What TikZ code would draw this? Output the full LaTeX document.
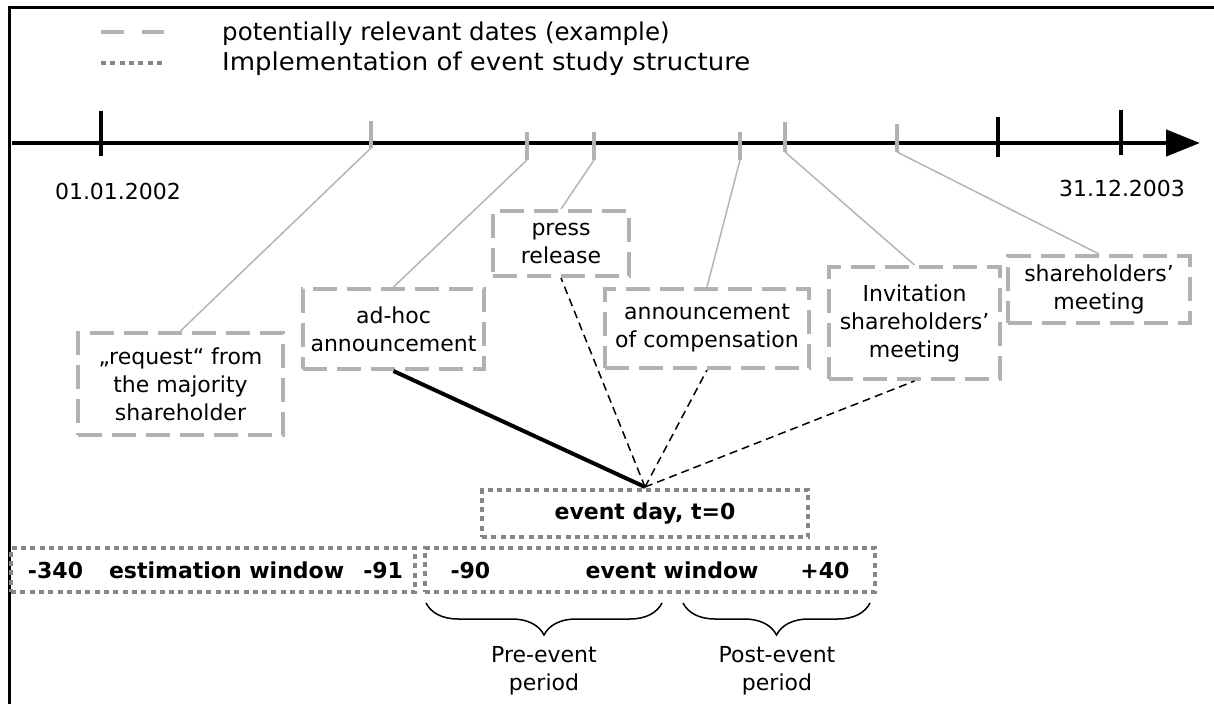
\documentclass[tikz,border=0pt]{standalone}
\usepackage{fontspec}
\setmainfont{DejaVu Sans}
\usetikzlibrary{arrows.meta,decorations.pathreplacing}
\definecolor{lgray}{HTML}{B2B2B2}
\definecolor{dgray}{HTML}{868686}
\definecolor{linkgray}{HTML}{B4B4B4}
\begin{document}
\begin{tikzpicture}[x=1pt,y=-1pt,
  every node/.style={font=\fontsize{22}{28}\selectfont, inner sep=0pt},
  legendtext/.style={anchor=base west, font=\fontsize{24.5}{30}\selectfont},
  datebox/.style={draw=lgray, line width=4pt, dash pattern=on 24pt off 10pt, align=center},
  studybox/.style={draw=dgray, line width=4pt, dash pattern=on 5pt off 4.3pt, font=\fontsize{22}{28}\selectfont\bfseries},
  blacktick/.style={line width=4.5pt, black},
  graytick/.style={line width=4.5pt, lgray},
  graylink/.style={line width=1.5pt, linkgray},
  evlink/.style={line width=1.5pt, black, dash pattern=on 8pt off 5pt},
  bracestyle/.style={decorate, decoration={brace, mirror, amplitude=32pt}, line width=1.5pt}
]
\useasboundingbox (0,0) rectangle (1214,704);

% frame
\coordinate (fr0) at (9,704);
\coordinate (fr1) at (9,7);
\coordinate (fr2) at (1214,7);
\draw[line width=3pt] (fr0) -- (fr1) -- (fr2);

% legend
\coordinate (lg1a) at (101,32);
\coordinate (lg1b) at (164,32);
\coordinate (lg2a) at (101,63);
\coordinate (lg2b) at (164,63);
\draw[lgray, line width=4.5pt, dash pattern=on 23pt off 18pt] (lg1a) -- (lg1b);
\draw[dgray, line width=4.5pt, dash pattern=on 5pt off 4.3pt] (lg2a) -- (lg2b);
\node[legendtext] (leg1) at (222,40.5) {potentially relevant dates (example)};
\node[legendtext] (leg2) at (222,70.5) {\addfontfeatures{FakeStretch=1.06}Implementation of event study structure};

% timeline
\coordinate (tl0) at (12,143);
\coordinate (tl1) at (1200,143);
\draw[line width=4.5pt, -{Triangle[length=34pt,width=26pt]}] (tl0) -- (tl1);

% black ticks
\coordinate (bt1a) at (101,111); \coordinate (bt1b) at (101,156);
\coordinate (bt2a) at (998,117); \coordinate (bt2b) at (998,157);
\coordinate (bt3a) at (1121,110); \coordinate (bt3b) at (1121,155);
\draw[blacktick] (bt1a) -- (bt1b);
\draw[blacktick] (bt2a) -- (bt2b);
\draw[blacktick] (bt3a) -- (bt3b);

\node (d1) at (118,191) {01.01.2002};
\node (d2) at (1122,188) {31.12.2003};

% gray ticks
\coordinate (g1a) at (371,121); \coordinate (g1) at (371,148);
\coordinate (g2a) at (527,132); \coordinate (g2) at (527,160);
\coordinate (g3a) at (594,132); \coordinate (g3) at (594,160);
\coordinate (g4a) at (740,132); \coordinate (g4) at (740,160);
\coordinate (g5a) at (785,122); \coordinate (g5) at (785,152);
\coordinate (g6a) at (897,124); \coordinate (g6) at (897,152);
\foreach \t in {1,...,6} {\draw[graytick] (g\t a) -- (g\t);}

% date boxes
\node[datebox, minimum width=205pt, minimum height=102pt] (request) at (180.5,384) {„request“ from\\the majority\\shareholder};
\node[datebox, minimum width=181pt, minimum height=80pt] (adhoc) at (393.5,329) {ad-hoc\\announcement};
\node[datebox, minimum width=136pt, minimum height=65pt] (press) at (561,243.5) {press\\release};
\node[datebox, minimum width=204pt, minimum height=79pt] (announce) at (707,328.5) {announcement\\of compensation};
\node[datebox, minimum width=171pt, minimum height=112pt] (invit) at (914.5,323) {Invitation\\shareholders’\\meeting};
\node[datebox, minimum width=182pt, minimum height=67pt] (meeting) at (1099,289.5) {shareholders’\\meeting};

% links from ticks
\draw[graylink] (g1) -- (request.north);
\draw[graylink] (g2) -- (adhoc.north);
\draw[graylink] (g3) -- (press.north);
\draw[graylink] (g4) -- (announce.north);
\draw[graylink] (g5) -- (invit.north);
\draw[graylink] (g6) -- (meeting.north);

% study structure
\node[studybox, minimum width=326pt, minimum height=47pt] (eventday) at (645,513.5) {event day, t=0};
\node[studybox, minimum width=404pt, minimum height=44pt] (estwin) at (213,570) {\hspace{5pt}\makebox[375pt][l]{-340\hspace{26pt}estimation window\hfill-91}};
\node[studybox, minimum width=450pt, minimum height=44pt] (evwin) at (650,570) {\makebox[399pt][l]{-90\hfill event window\hspace{42pt}+40}\hspace{17pt}};

\coordinate (ev) at (645,487);
\draw[line width=4pt] (ev) -- (adhoc.south);
\draw[evlink] (ev) -- (press.south);
\draw[evlink] (ev) -- (announce.south);
\draw[evlink] (ev) -- (invit.south);

% braces
\coordinate (preA) at (426,603); \coordinate (preB) at (662,603);
\coordinate (postA) at (683,603); \coordinate (postB) at (870,603);
\draw[bracestyle] (preA) -- (preB);
\draw[bracestyle] (postA) -- (postB);
\node[align=center] (prelbl) at (544,671) {Pre-event\\period};
\node[align=center] (postlbl) at (777,671) {Post-event\\period};
\end{tikzpicture}
\end{document}
